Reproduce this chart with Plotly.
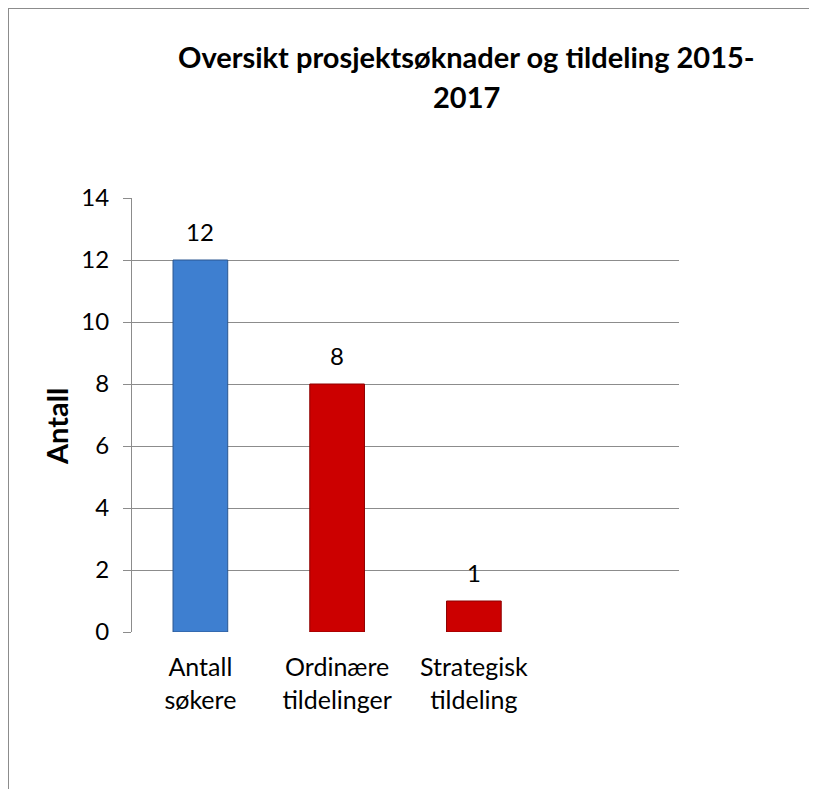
import plotly.graph_objects as go

categories = ["Antall<br>søkere", "Ordinære<br>tildelinger", "Strategisk<br>tildeling"]
values = [12, 8, 1]
bar_colors = ["#3E7FD0", "#CC0000", "#CC0000"]
edge_colors = ["#2A5690", "#8E0000", "#8E0000"]
y_ticks = [0, 2, 4, 6, 8, 10, 12, 14]
title_lines = ["Oversikt prosjektsøknader og tildeling 2015-", "2017"]
y_title = "Antall"

FONT = "Lato, Carlito, Calibri, sans-serif"
x_pos = list(range(len(values)))

# page body has an 8px margin; work in figure coordinates
OFF = 8
W, H = 817, 789
L, T = 132 - OFF, 198 - OFF
R = W - (679 - OFF)
B = H - (632 - OFF)

fig = go.Figure()
fig.add_trace(go.Bar(
    x=x_pos, y=values, width=0.4,
    marker=dict(color=bar_colors, line=dict(color=edge_colors, width=1)),
    hoverinfo="x+y",
))

for xv, v in zip(x_pos, values):
    fig.add_annotation(x=xv, y=v, text=str(v), showarrow=False, xanchor="center",
                       yanchor="bottom", yshift=12,
                       font=dict(family=FONT, size=24, color="#000000"))

fig.update_layout(
    width=W, height=H,
    margin=dict(l=L, r=R, t=T, b=B),
    paper_bgcolor="white", plot_bgcolor="white",
    showlegend=False,
    font=dict(family=FONT, size=24, color="#000000"),
    xaxis=dict(range=[-0.5, 3.5], tickvals=x_pos, ticktext=categories,
               showgrid=False, zeroline=False, showline=False, ticks="",
               ticklabelstandoff=18,
               tickfont=dict(family=FONT, size=25)),
    yaxis=dict(range=[0, 14], tickvals=y_ticks, showgrid=True, gridcolor="#8C8C8C",
               gridwidth=1, zeroline=False, showline=True, linecolor="#8C8C8C",
               ticks="outside", ticklen=8, tickcolor="#8C8C8C",
               ticklabelstandoff=9,
               tickfont=dict(family=FONT, size=24)),
)

def px_to_paper_x(px):
    return (px - OFF - L) / (W - L - R)

def px_to_paper_y(py):
    return (H - B - (py - OFF)) / (H - T - B)

# y-axis title
fig.add_annotation(text="<b>" + y_title + "</b>", xref="paper", yref="paper",
                   x=px_to_paper_x(56), y=px_to_paper_y(427), textangle=-90,
                   showarrow=False, xanchor="center", yanchor="middle",
                   font=dict(family=FONT, size=29, color="#000000"))

for line, yy in zip(title_lines, [56, 96]):
    fig.add_annotation(text="<b>" + line + "</b>", xref="paper", yref="paper",
                       x=px_to_paper_x(466), y=px_to_paper_y(yy), showarrow=False,
                       xanchor="center", yanchor="middle",
                       font=dict(family=FONT, size=29, color="#000000"))

# outer chart border (top and left)
fig.add_shape(type="line", xref="paper", yref="paper",
              x0=px_to_paper_x(6), x1=px_to_paper_x(830), y0=px_to_paper_y(8), y1=px_to_paper_y(8),
              line=dict(color="#8C8C8C", width=2))
fig.add_shape(type="line", xref="paper", yref="paper",
              x0=px_to_paper_x(8), x1=px_to_paper_x(8), y0=px_to_paper_y(8), y1=px_to_paper_y(800),
              line=dict(color="#8C8C8C", width=2))

fig.write_html("out.html")
